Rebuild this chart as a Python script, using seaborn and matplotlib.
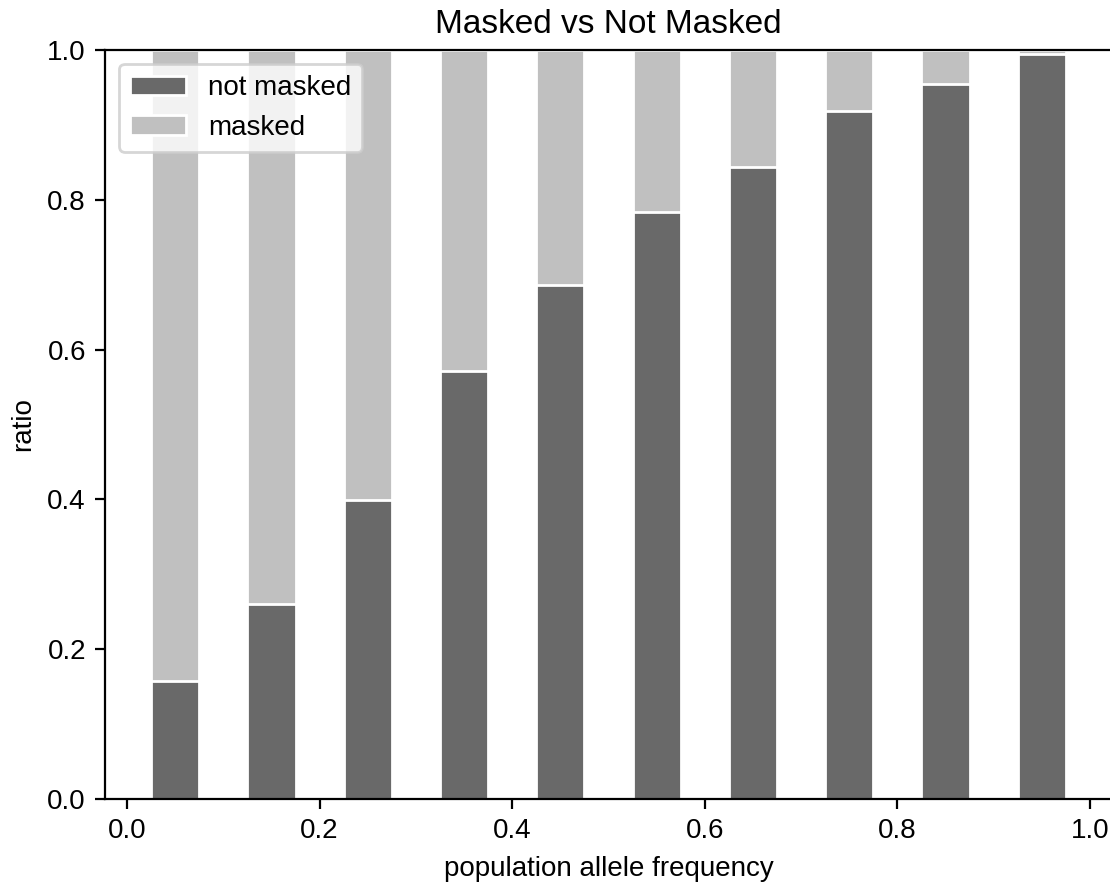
import matplotlib
matplotlib.use("Agg")
import matplotlib.pyplot as plt
from matplotlib.patches import Patch
import seaborn as sns
import pandas as pd

# Allele-frequency bins (bin centres) and the share of sites in each bin
freq_bins = [0.05, 0.15, 0.25, 0.35, 0.45, 0.55, 0.65, 0.75, 0.85, 0.95]
not_masked = [0.157, 0.261, 0.399, 0.571, 0.686, 0.784, 0.844, 0.919, 0.955, 0.995]
masked = [0.843, 0.739, 0.601, 0.429, 0.314, 0.216, 0.156, 0.081, 0.045, 0.005]

series_labels = ["not masked", "masked"]
series_colors = ["dimgray", "silver"]
y_ticks = [0.0, 0.2, 0.4, 0.6, 0.8, 1.0]

df = pd.DataFrame({
    "freq": freq_bins,
    "not_masked": not_masked,
    "masked": masked,
})
df["total"] = df["not_masked"] + df["masked"]

sns.set_style("ticks")
plt.rcParams["font.family"] = ["Liberation Sans", "DejaVu Sans"]
plt.rcParams.update({
    "text.color": "black",
    "axes.labelcolor": "black",
    "axes.edgecolor": "black",
    "xtick.color": "black",
    "ytick.color": "black",
})

fig = plt.figure(figsize=(5.55, 4.41), dpi=200)
ax = fig.add_axes([0.0949, 0.0941, 0.9066, 0.8492])

# stacked bars: full height first (masked on top), then the not-masked part
sns.barplot(data=df, x="freq", y="total", native_scale=True, width=0.5,
            color=series_colors[1], saturation=1, errorbar=None, ax=ax)
sns.barplot(data=df, x="freq", y="not_masked", native_scale=True, width=0.5,
            color=series_colors[0], saturation=1, errorbar=None, ax=ax)

ax.set_xlim(-0.0225, 1.0225)
ax.set_ylim(0, 1)
ax.set_yticks(y_ticks)
ax.set_xticks([0.0, 0.2, 0.4, 0.6, 0.8, 1.0])
ax.set_xlabel("population allele frequency")
ax.set_ylabel("ratio")
ax.set_title("Masked vs Not Masked")

handles = [Patch(facecolor=c, edgecolor="white", label=l)
           for c, l in zip(series_colors, series_labels)]
ax.legend(handles=handles, loc="upper left")

fig.savefig("out.png", dpi=200)
